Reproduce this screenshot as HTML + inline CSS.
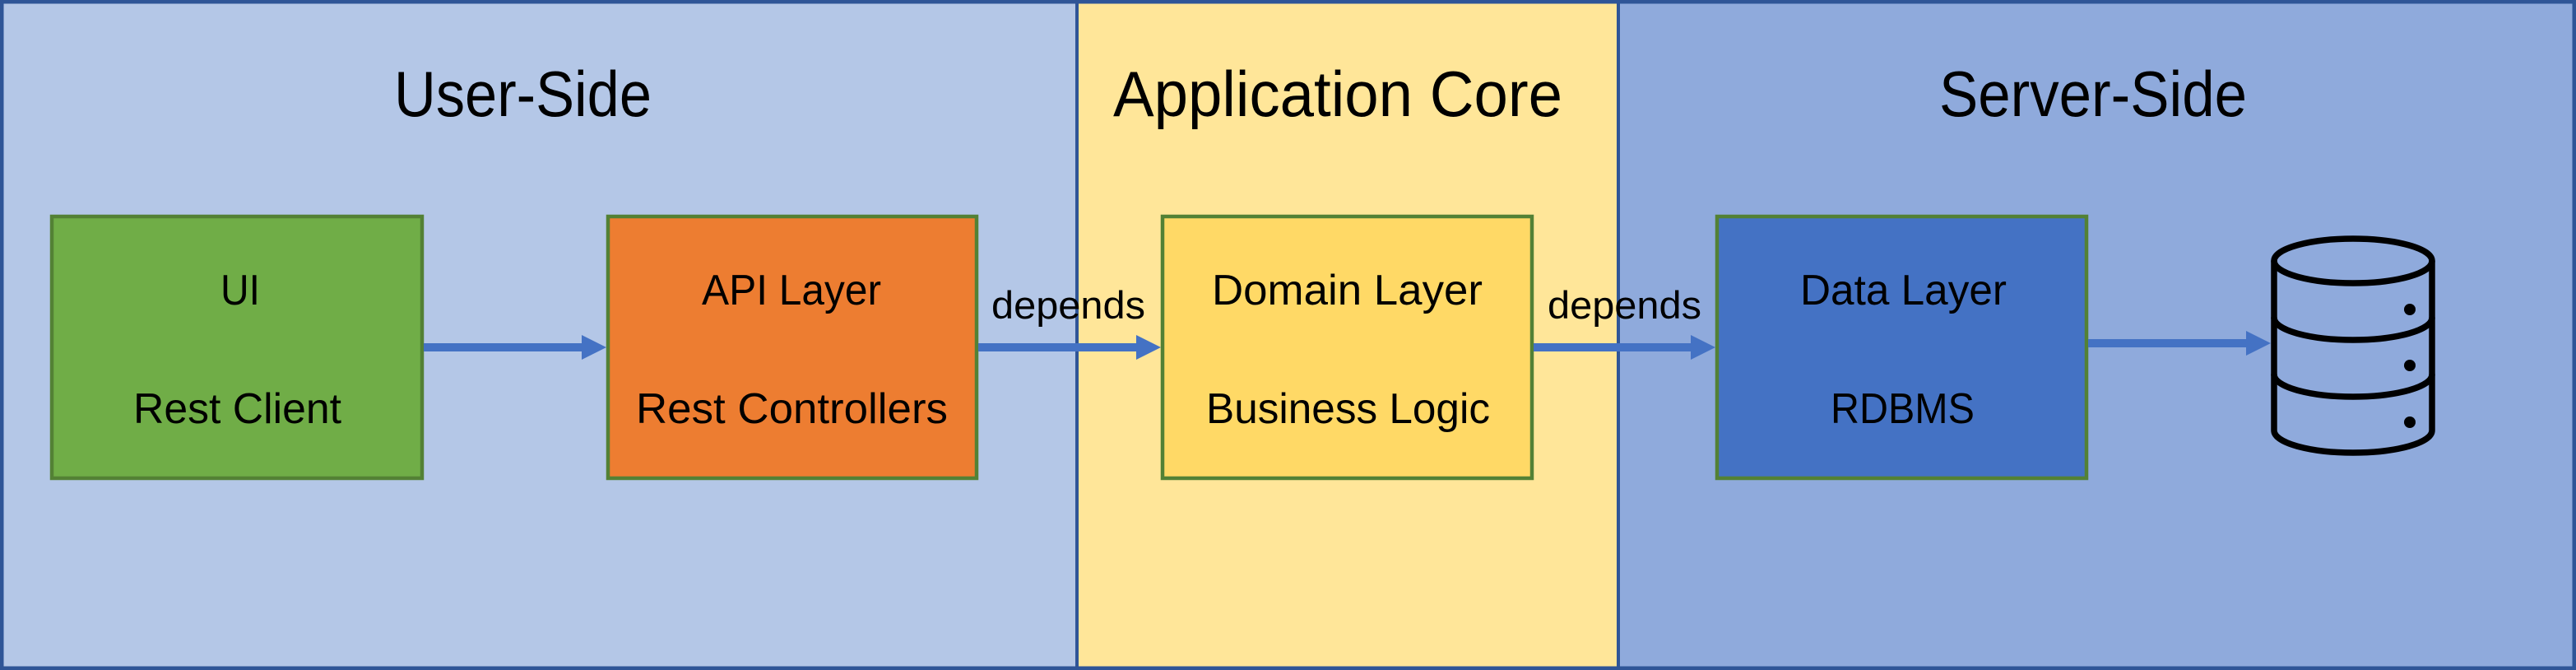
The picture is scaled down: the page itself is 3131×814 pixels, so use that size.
<!DOCTYPE html>
<html><head><meta charset="utf-8"><style>
html,body{margin:0;padding:0;background:#fff}
svg{display:block}
text{font-family:"Liberation Sans",sans-serif;fill:#000}
</style></head><body>
<svg width="3131" height="814" viewBox="0 0 3131 814" xmlns="http://www.w3.org/2000/svg">
<rect x="0" y="0" width="1310" height="814" fill="#b4c7e7"/>
<rect x="1310" y="0" width="658" height="814" fill="#ffe699"/>
<rect x="1968" y="0" width="1163" height="814" fill="#8faadc"/>
<line x1="1309" y1="0" x2="1309" y2="814" stroke="#2f5597" stroke-width="4"/>
<line x1="1967" y1="0" x2="1967" y2="814" stroke="#2f5597" stroke-width="4"/>
<rect x="2" y="2" width="3127" height="810" fill="none" stroke="#2f5597" stroke-width="5"/>

<text x="479" y="141" font-size="78" textLength="313" lengthAdjust="spacingAndGlyphs">User-Side</text>
<text x="1353" y="141" font-size="78" textLength="546" lengthAdjust="spacingAndGlyphs">Application Core</text>
<text x="2357" y="141" font-size="78" textLength="374" lengthAdjust="spacingAndGlyphs">Server-Side</text>

<rect x="63" y="263" width="450" height="318" fill="#70ad47" stroke="#538135" stroke-width="4.5"/>
<rect x="739" y="263" width="448" height="318" fill="#ed7d31" stroke="#538135" stroke-width="4.5"/>
<rect x="1413" y="263" width="449" height="318" fill="#ffd966" stroke="#538135" stroke-width="4.5"/>
<rect x="2087" y="263" width="449" height="318" fill="#4472c4" stroke="#538135" stroke-width="4.5"/>

<g font-size="52">
<text x="268" y="370" textLength="48" lengthAdjust="spacingAndGlyphs">UI</text>
<text x="162" y="514" textLength="253" lengthAdjust="spacingAndGlyphs">Rest Client</text>
<text x="853" y="370" textLength="218" lengthAdjust="spacingAndGlyphs">API Layer</text>
<text x="773" y="514" textLength="379" lengthAdjust="spacingAndGlyphs">Rest Controllers</text>
<text x="1473" y="370" textLength="329" lengthAdjust="spacingAndGlyphs">Domain Layer</text>
<text x="1466" y="514" textLength="345" lengthAdjust="spacingAndGlyphs">Business Logic</text>
<text x="2188" y="370" textLength="251" lengthAdjust="spacingAndGlyphs">Data Layer</text>
<text x="2225" y="514" textLength="175" lengthAdjust="spacingAndGlyphs">RDBMS</text>
</g>
<text x="1205" y="387" font-size="47" textLength="187" lengthAdjust="spacingAndGlyphs">depends</text>
<text x="1881" y="387" font-size="47" textLength="187" lengthAdjust="spacingAndGlyphs">depends</text>

<g fill="#4472c4">
<rect x="515" y="417" width="194" height="10"/><polygon points="707,407 737,422 707,437"/>
<rect x="1189" y="417" width="194" height="10"/><polygon points="1381,407 1411,422 1381,437"/>
<rect x="1864" y="417" width="193" height="10"/><polygon points="2055,407 2085,422 2055,437"/>
<rect x="2538" y="412" width="194" height="10"/><polygon points="2730,402 2760,417 2730,432"/>
</g>

<g fill="none" stroke="#000" stroke-width="7.5" stroke-linecap="round">
<ellipse cx="2860" cy="317" rx="96" ry="27"/>
<path d="M2764 317 L2764 523 A96 27 0 0 0 2956 523 L2956 317"/>
<path d="M2764 386 A96 27 0 0 0 2956 386"/>
<path d="M2764 455 A96 27 0 0 0 2956 455"/>
</g>
<g fill="#000">
<circle cx="2929" cy="376" r="7"/>
<circle cx="2929" cy="444" r="7"/>
<circle cx="2929" cy="513" r="7"/>
</g>
</svg>
</body></html>
